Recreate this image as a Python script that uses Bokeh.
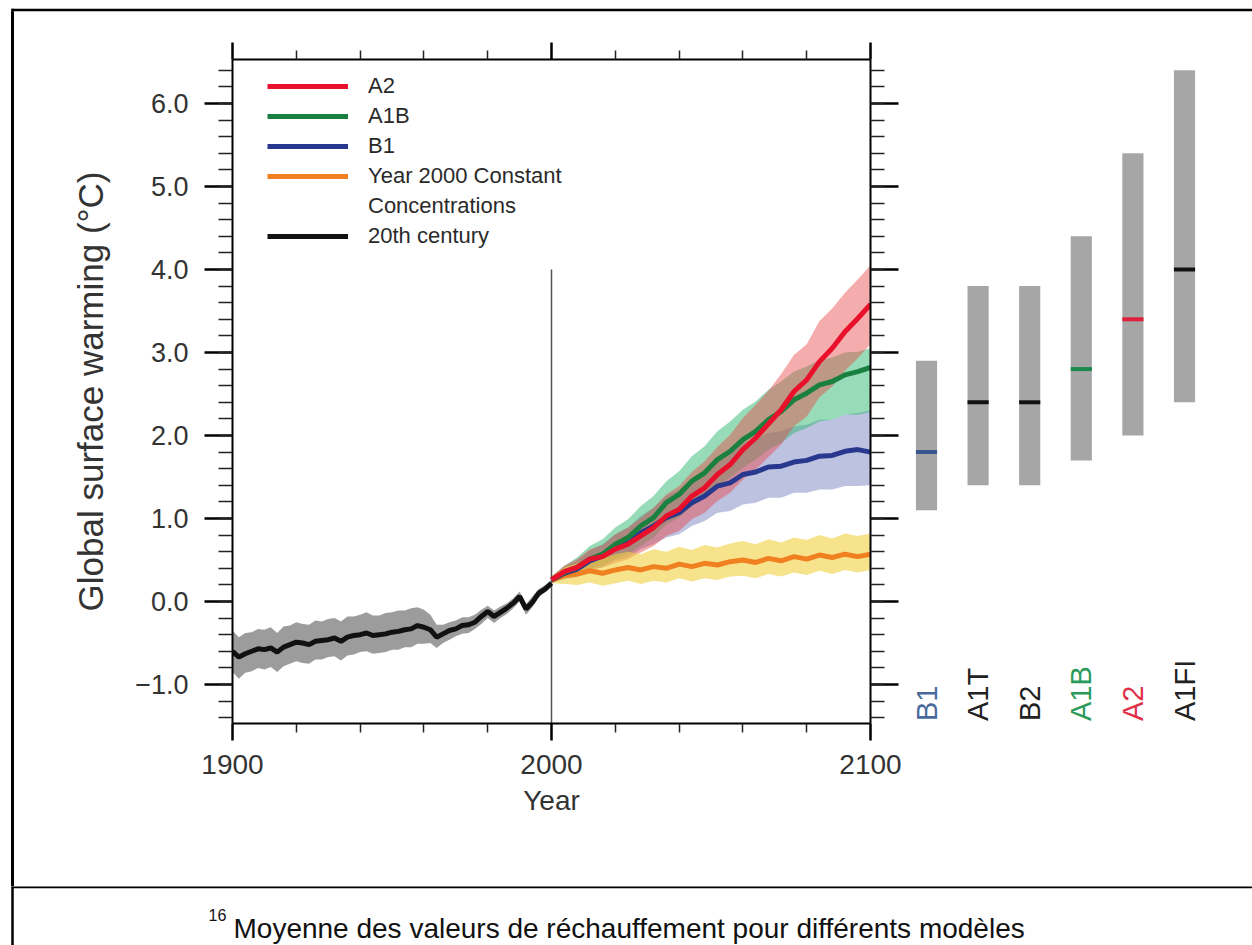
import math
from bokeh.plotting import figure
from bokeh.models import Range1d, LinearAxis, FixedTicker, Legend, LegendItem, Div
from bokeh.layouts import column, row
from bokeh.embed import file_html
from bokeh.resources import INLINE
from bokeh.core.properties import value

FONT = "Liberation Sans"

# ---------------- data ----------------
hist_years = list(range(1900, 2001, 2))
hist_mean = [-0.60, -0.67, -0.63, -0.60, -0.57, -0.58, -0.56, -0.61, -0.55, -0.52,
             -0.49, -0.50, -0.52, -0.48, -0.47, -0.46, -0.44, -0.48, -0.43, -0.41,
             -0.40, -0.38, -0.41, -0.40, -0.39, -0.37, -0.36, -0.34, -0.33, -0.29,
             -0.31, -0.34, -0.43, -0.39, -0.35, -0.33, -0.29, -0.28, -0.25, -0.18,
             -0.12, -0.18, -0.13, -0.08, -0.02, 0.06, -0.09, -0.01, 0.10, 0.15, 0.22]
hist_upper = [-0.35, -0.43, -0.38, -0.37, -0.33, -0.34, -0.31, -0.38, -0.30, -0.29,
              -0.25, -0.27, -0.28, -0.23, -0.24, -0.21, -0.20, -0.24, -0.18, -0.18,
              -0.16, -0.13, -0.17, -0.17, -0.14, -0.13, -0.11, -0.11, -0.08, -0.07,
              -0.10, -0.16, -0.28, -0.28, -0.25, -0.23, -0.19, -0.19, -0.16, -0.10,
              -0.05, -0.11, -0.06, -0.02, 0.04, 0.12, -0.03, 0.06, 0.15, 0.20, 0.26]
hist_lower = [-0.85, -0.93, -0.86, -0.84, -0.80, -0.82, -0.79, -0.85, -0.78, -0.75,
              -0.72, -0.74, -0.75, -0.70, -0.70, -0.67, -0.66, -0.71, -0.65, -0.64,
              -0.61, -0.60, -0.63, -0.62, -0.61, -0.58, -0.58, -0.55, -0.55, -0.51,
              -0.51, -0.50, -0.56, -0.50, -0.46, -0.42, -0.39, -0.38, -0.33, -0.27,
              -0.20, -0.26, -0.20, -0.15, -0.08, 0.00, -0.16, -0.07, 0.05, 0.11, 0.18]

proj_years = list(range(2000, 2101, 4))
a2_mean = [0.26, 0.36, 0.41, 0.51, 0.54, 0.63, 0.69, 0.79, 0.89, 1.03, 1.11, 1.27, 1.37,
           1.53, 1.65, 1.83, 1.97, 2.14, 2.31, 2.53, 2.67, 2.89, 3.05, 3.25, 3.41, 3.58]
a2_upper = [0.30, 0.43, 0.51, 0.63, 0.68, 0.81, 0.89, 1.01, 1.13, 1.29, 1.39, 1.56, 1.69,
            1.86, 2.01, 2.21, 2.37, 2.54, 2.74, 2.97, 3.10, 3.38, 3.53, 3.72, 3.88, 4.05]
a2_lower = [0.22, 0.29, 0.31, 0.39, 0.41, 0.46, 0.51, 0.59, 0.67, 0.79, 0.85, 0.99, 1.07,
            1.21, 1.31, 1.47, 1.59, 1.74, 1.89, 2.11, 2.23, 2.46, 2.59, 2.78, 2.93, 3.10]

a1b_mean = [0.26, 0.35, 0.41, 0.51, 0.57, 0.69, 0.77, 0.91, 1.01, 1.19, 1.29, 1.45, 1.55,
            1.71, 1.81, 1.95, 2.05, 2.19, 2.29, 2.43, 2.51, 2.61, 2.65, 2.73, 2.77, 2.82]
a1b_upper = [0.30, 0.43, 0.53, 0.67, 0.75, 0.89, 0.99, 1.15, 1.27, 1.45, 1.57, 1.75, 1.87,
             2.05, 2.17, 2.31, 2.41, 2.55, 2.65, 2.77, 2.83, 2.91, 2.94, 3.00, 3.01, 3.05]
a1b_lower = [0.22, 0.29, 0.31, 0.39, 0.43, 0.51, 0.57, 0.67, 0.77, 0.93, 1.01, 1.15, 1.25,
             1.39, 1.49, 1.61, 1.71, 1.83, 1.91, 2.03, 2.09, 2.17, 2.19, 2.25, 2.25, 2.28]

b1_mean = [0.26, 0.34, 0.39, 0.49, 0.55, 0.65, 0.71, 0.83, 0.91, 1.01, 1.07, 1.19, 1.27,
           1.39, 1.43, 1.53, 1.56, 1.62, 1.63, 1.68, 1.70, 1.75, 1.76, 1.81, 1.83, 1.80]
b1_upper = [0.30, 0.41, 0.49, 0.61, 0.69, 0.81, 0.89, 1.03, 1.13, 1.27, 1.35, 1.49, 1.59,
            1.73, 1.79, 1.91, 1.95, 2.03, 2.05, 2.11, 2.13, 2.19, 2.19, 2.25, 2.27, 2.30]
b1_lower = [0.22, 0.27, 0.29, 0.37, 0.41, 0.49, 0.53, 0.63, 0.69, 0.77, 0.81, 0.91, 0.97,
            1.07, 1.09, 1.17, 1.19, 1.25, 1.25, 1.31, 1.31, 1.35, 1.35, 1.39, 1.39, 1.40]

const_mean = [0.26, 0.31, 0.33, 0.37, 0.34, 0.38, 0.41, 0.38, 0.42, 0.40, 0.45, 0.42, 0.46,
              0.44, 0.48, 0.50, 0.47, 0.52, 0.49, 0.54, 0.51, 0.56, 0.53, 0.57, 0.54, 0.57]
const_upper = [0.30, 0.41, 0.46, 0.53, 0.52, 0.57, 0.60, 0.57, 0.63, 0.60, 0.66, 0.62, 0.68,
               0.65, 0.70, 0.73, 0.69, 0.75, 0.71, 0.77, 0.74, 0.80, 0.76, 0.82, 0.79, 0.82]
const_lower = [0.22, 0.21, 0.20, 0.23, 0.19, 0.22, 0.25, 0.21, 0.25, 0.23, 0.28, 0.24, 0.28,
               0.26, 0.30, 0.31, 0.28, 0.33, 0.30, 0.35, 0.32, 0.37, 0.33, 0.38, 0.35, 0.38]

scenarios = ["B1", "A1T", "B2", "A1B", "A2", "A1FI"]
best_estimate = [1.8, 2.4, 2.4, 2.8, 3.4, 4.0]
likely_low = [1.1, 1.4, 1.4, 1.7, 2.0, 2.4]
likely_high = [2.9, 3.8, 3.8, 4.4, 5.4, 6.4]
mark_colors = ["#3a5590", "#111111", "#111111", "#1a8a4a", "#e0203a", "#111111"]
label_colors = ["#4a6a9c", "#222222", "#222222", "#2a9a5a", "#e0304a", "#222222"]

x_major = [1900, 2000, 2100]
x_minor = [1920, 1940, 1960, 1980, 2020, 2040, 2060, 2080]
y_major = [-1, 0, 1, 2, 3, 4, 5, 6]
y_minor = [round(-1.4 + 0.2 * k, 1) for k in range(40)]

divider_year = 2000
divider_top = 4.0
caption = "Moyenne des valeurs de réchauffement pour différents modèles"
footnote = "16"

# ---------------- layout constants ----------------
TOP_H, CAP_H, LEFT_W = 12, 59, 15
ROW_H = 945 - TOP_H - CAP_H
MAIN_W, BARS_W = 890, 347
BORDER_T, BORDER_B = 47, 163
Y_LO, Y_HI = -1.47, 6.53


def bare(fig):
    fig.grid.visible = False
    fig.outline_line_color = None
    fig.background_fill_color = "white"
    fig.border_fill_color = "white"
    return fig


# ---------------- main chart ----------------
p = figure(width=MAIN_W, height=ROW_H, x_range=Range1d(1900, 2100), y_range=Range1d(Y_LO, Y_HI),
           output_backend="svg", toolbar_location=None, x_axis_location=None, y_axis_location=None,
           min_border_left=232 - LEFT_W, min_border_right=35, min_border_top=BORDER_T,
           min_border_bottom=BORDER_B)
bare(p)

p.varea(x=hist_years, y1=hist_lower, y2=hist_upper, fill_color="#9c9c9c", fill_alpha=1.0)
p.varea(x=proj_years, y1=b1_lower, y2=b1_upper, fill_color="#7d86c4", fill_alpha=0.5)
p.varea(x=proj_years, y1=a1b_lower, y2=a1b_upper, fill_color="#2fb874", fill_alpha=0.5)
p.varea(x=proj_years, y1=a2_lower, y2=a2_upper, fill_color="#e84848", fill_alpha=0.45)
p.varea(x=proj_years, y1=const_lower, y2=const_upper, fill_color="#f0d040", fill_alpha=0.6)

p.segment(x0=[divider_year], y0=[Y_LO], x1=[divider_year], y1=[divider_top],
          line_color="#555555", line_width=1.5)

r_const = p.line(proj_years, const_mean, line_color="#f08020", line_width=5)
r_b1 = p.line(proj_years, b1_mean, line_color="#28388e", line_width=5)
r_a1b = p.line(proj_years, a1b_mean, line_color="#1a8040", line_width=5)
r_a2 = p.line(proj_years, a2_mean, line_color="#e8102a", line_width=5)
r_20c = p.line(hist_years, hist_mean, line_color="#111111", line_width=5)
r_blank = p.line(x=[], y=[], line_alpha=0)


def style_axis(ax, ticker, major_out, minor_out, label_size, standoff, overrides):
    ax.ticker = ticker
    ax.axis_line_color = "black"
    ax.axis_line_width = 2
    ax.major_tick_in = 0
    ax.major_tick_out = major_out
    ax.major_tick_line_width = 2.5
    ax.major_tick_line_color = "black"
    ax.minor_tick_in = 0
    ax.minor_tick_out = minor_out
    ax.minor_tick_line_width = 1.5
    ax.minor_tick_line_color = "#222222"
    ax.major_label_text_font = FONT
    ax.major_label_text_font_size = label_size
    ax.major_label_text_color = "#333333"
    ax.major_label_standoff = standoff
    ax.major_label_overrides = overrides


ax_b = LinearAxis()
style_axis(ax_b, FixedTicker(ticks=x_major, minor_ticks=x_minor), 17, 9, "28px", 14,
           {t: str(t) for t in x_major})
ax_b.axis_label = "Year"
ax_b.axis_label_text_font = FONT
ax_b.axis_label_text_font_size = "28px"
ax_b.axis_label_text_font_style = "normal"
ax_b.axis_label_text_color = "#333333"
ax_b.axis_label_standoff = 8
p.add_layout(ax_b, "below")

ax_t = LinearAxis()
style_axis(ax_t, FixedTicker(ticks=x_major, minor_ticks=x_minor), 17, 9, "1px", 0,
           {t: "" for t in x_major})
p.add_layout(ax_t, "above")

ax_l = LinearAxis()
style_axis(ax_l, FixedTicker(ticks=y_major, minor_ticks=y_minor), 28, 14, "27px", 16,
           {t: f"{t:.1f}".replace("-", "\u2212") for t in y_major})
ax_l.axis_label = "Global surface warming (°C)"
ax_l.axis_label_text_font = FONT
ax_l.axis_label_text_font_size = "35px"
ax_l.axis_label_text_font_style = "normal"
ax_l.axis_label_text_color = "#333333"
ax_l.axis_label_standoff = 22
p.add_layout(ax_l, "left")

ax_r = LinearAxis()
style_axis(ax_r, FixedTicker(ticks=y_major, minor_ticks=y_minor), 28, 14, "1px", 0,
           {t: "" for t in y_major})
p.add_layout(ax_r, "right")

legend = Legend(items=[
    LegendItem(label="A2", renderers=[r_a2]),
    LegendItem(label="A1B", renderers=[r_a1b]),
    LegendItem(label="B1", renderers=[r_b1]),
    LegendItem(label="Year 2000 Constant", renderers=[r_const]),
    LegendItem(label="Concentrations", renderers=[r_blank]),
    LegendItem(label="20th century", renderers=[r_20c]),
], location=(35, 474), padding=0, spacing=4, glyph_width=81, glyph_height=26, label_height=26,
    label_standoff=20, label_text_font=FONT, label_text_font_size="22px",
    label_text_color="#2a2a2a", border_line_color=None, background_fill_alpha=0)
p.add_layout(legend)

# ---------------- scenario bars (frame aligned with main chart) ----------------
bar_step = 51.6
idx = list(range(len(scenarios)))
pb = figure(width=BARS_W, height=ROW_H, x_range=Range1d(-21 / bar_step, (BARS_W - 21) / bar_step),
            y_range=p.y_range, output_backend="svg", toolbar_location=None,
            x_axis_location=None, y_axis_location=None, min_border_left=0, min_border_right=0,
            min_border_top=BORDER_T, min_border_bottom=BORDER_B)
bare(pb)
pb.vbar(x=idx, bottom=likely_low, top=likely_high, width=0.41, fill_color="#a6a6a6", line_color=None)
pb.rect(x=idx, y=best_estimate, width=0.41, height=4, height_units="screen",
        fill_color=mark_colors, line_color=None)
label_y = Y_LO + 0.03
pb.text(x=idx, y=[label_y] * len(idx), text=scenarios, angle=math.pi / 2, text_align="left",
        text_baseline="middle", text_color=label_colors, text_font=value(FONT), text_font_size="29px")

# ---------------- frame decorations & caption ----------------
ptop = figure(width=1252, height=TOP_H, x_range=Range1d(0, 1252), y_range=Range1d(0, TOP_H),
              output_backend="svg", toolbar_location=None, x_axis_location=None,
              y_axis_location=None, min_border=0)
bare(ptop)
ptop.segment(x0=[11, 12], y0=[2.5, 0], x1=[1252, 12], y1=[2.5, 3.7], line_color="black", line_width=2.5)

pleft = Div(text='<div style="width:3px;height:%dpx;background:#000000;margin-left:11px"></div>' % ROW_H,
            width=LEFT_W, height=ROW_H, margin=0)

pcap = figure(width=1252, height=CAP_H, x_range=Range1d(0, 1252), y_range=Range1d(0, CAP_H),
              output_backend="svg", toolbar_location=None, x_axis_location=None,
              y_axis_location=None, min_border=0)
bare(pcap)
pcap.segment(x0=[12, 11], y0=[0, CAP_H - 0.5], x1=[12, 1252], y1=[CAP_H, CAP_H - 0.5],
             line_color="black", line_width=2.5)
pcap.text(x=[233], y=[17], text=[caption], text_align="left", text_baseline="alphabetic",
          text_font=value(FONT), text_font_size="28px", text_color="#111111")
pcap.text(x=[208], y=[31], text=[footnote], text_align="left", text_baseline="alphabetic",
          text_font=value(FONT), text_font_size="16px", text_color="#111111")

layout = column(ptop, row(pleft, p, pb), pcap)
open("out.html", "w").write(file_html(layout, INLINE, title="Global surface warming"))
